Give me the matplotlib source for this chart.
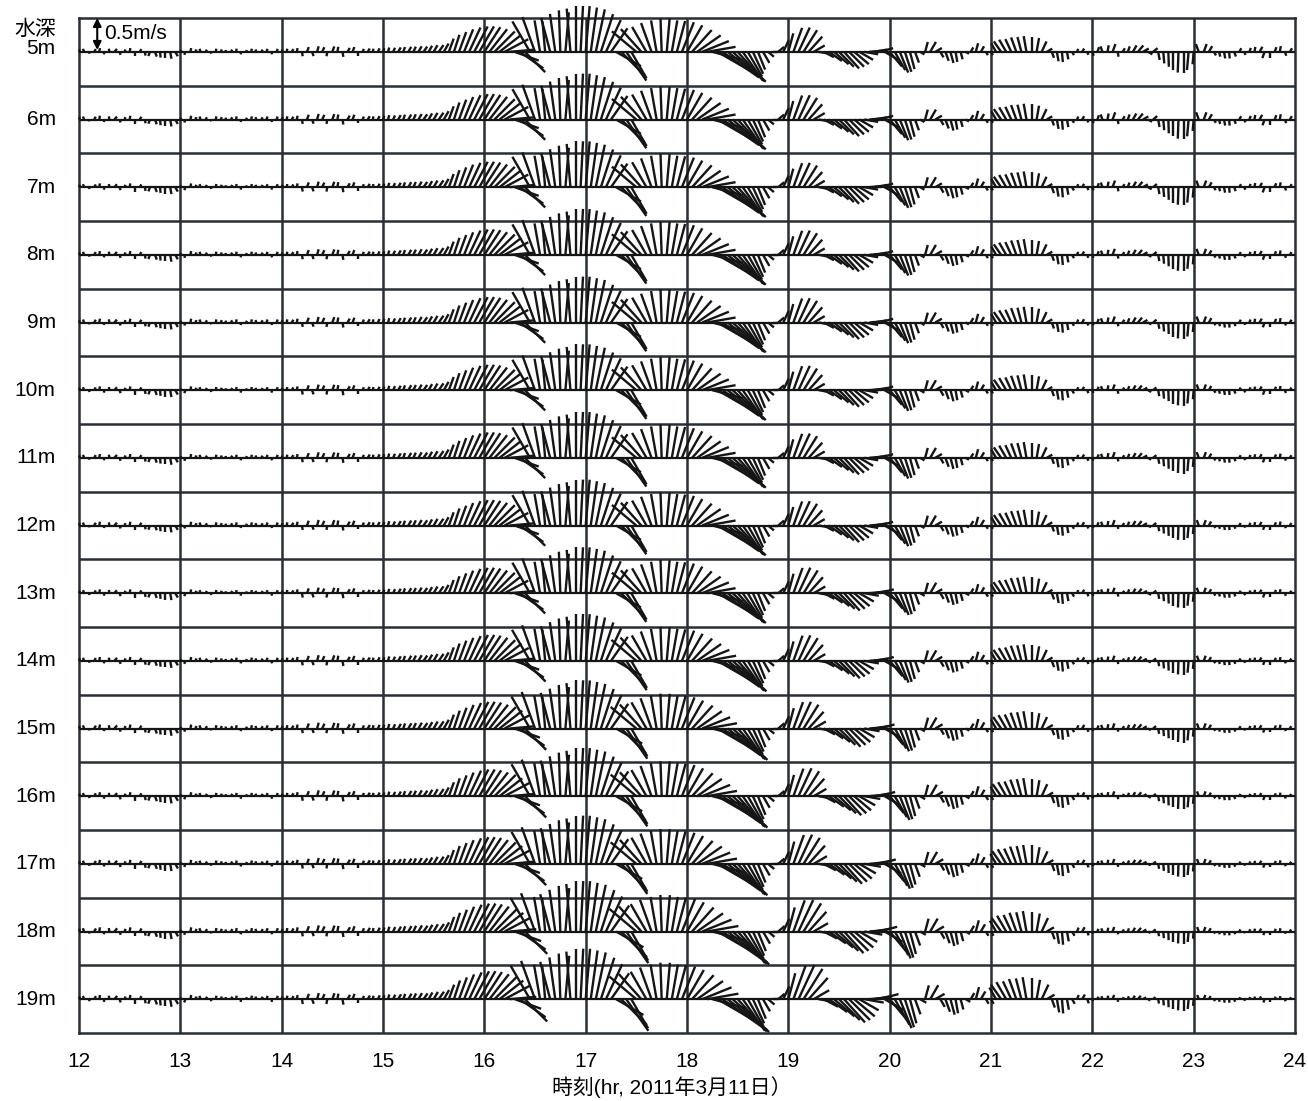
import numpy as np
import matplotlib
matplotlib.use('Agg')
import matplotlib.pyplot as plt
from matplotlib.collections import LineCollection

plt.rcParams['font.family'] = ['Liberation Sans', 'Noto Sans CJK JP']

depths = ['5m', '6m', '7m', '8m', '9m', '10m', '11m', '12m',
          '13m', '14m', '15m', '16m', '17m', '18m', '19m']

# current speed (m/s) and direction (deg, clockwise from north), every 3 min
speed_12 = [0.04, 0.05, 0.03, 0.05, 0.06, 0.04, 0.05, 0.06, 0.05, 0.04,
            0.06, 0.07, 0.05, 0.06, 0.07, 0.08, 0.09, 0.10, 0.11, 0.08]
dir_12 = [20, 340, 170, 30, 10, 190, 350, 40, 160, 20,
          10, 180, 30, 170, 200, 160, 175, 180, 170, 150]
speed_13 = [0.03, 0.05, 0.06, 0.04, 0.05, 0.04, 0.03, 0.05, 0.04, 0.03,
            0.04, 0.05, 0.04, 0.03, 0.05, 0.04, 0.04, 0.05, 0.04, 0.05]
dir_13 = [30, 200, 10, 20, 340, 30, 160, 10, 20, 350,
          30, 10, 190, 20, 10, 340, 30, 20, 170, 20]
speed_14 = [0.04, 0.05, 0.05, 0.06, 0.07, 0.08, 0.07, 0.09, 0.08, 0.07,
            0.09, 0.08, 0.08, 0.07, 0.08, 0.06, 0.05, 0.06, 0.05, 0.06]
dir_14 = [20, 10, 30, 10, 170, 20, 160, 15, 25, 190,
          20, 10, 170, 30, 20, 180, 20, 30, 10, 25]
speed_15 = [0.06, 0.07, 0.07, 0.08, 0.08, 0.09, 0.09, 0.10, 0.10, 0.11,
            0.12, 0.13, 0.15, 0.22, 0.28, 0.33, 0.38, 0.42, 0.45, 0.46]
dir_15 = [20, 15, 25, 30, 20, 30, 25, 30, 35, 30,
          30, 35, 30, 20, 18, 20, 22, 25, 28, 30]
speed_16 = [0.46, 0.45, 0.45, 0.43, 0.42, 0.38, 0.40, 0.45, 0.45, 0.55,
            0.58, 0.50, 0.48, 0.55, 0.60, 0.65, 0.62, 0.68, 0.72, 0.72]
dir_16 = [33, 38, 45, 52, 62, 85, 110, 125, 135, 330,
          340, 350, 355, 345, 352, 358, 5, 355, 0, 3]
speed_17 = [0.72, 0.70, 0.68, 0.62, 0.55, 0.45, 0.45, 0.52, 0.55, 0.48,
            0.50, 0.48, 0.45, 0.48, 0.50, 0.52, 0.52, 0.50, 0.50, 0.50]
dir_17 = [5, 8, 12, 18, 25, 35, 120, 135, 145, 150,
          310, 318, 330, 340, 350, 358, 5, 10, 15, 22]
speed_18 = [0.48, 0.46, 0.45, 0.45, 0.45, 0.50, 0.60, 0.70, 0.72, 0.70,
            0.62, 0.55, 0.45, 0.38, 0.30, 0.20, 0.12, 0.08, 0.12, 0.20]
dir_18 = [30, 42, 55, 68, 80, 105, 120, 125, 128, 132,
          138, 145, 150, 155, 158, 150, 130, 90, 50, 25]
speed_19 = [0.30, 0.40, 0.42, 0.40, 0.32, 0.20, 0.12, 0.18, 0.25, 0.30,
            0.33, 0.35, 0.33, 0.30, 0.25, 0.22, 0.20, 0.20, 0.22, 0.25]
dir_19 = [15, 20, 25, 32, 42, 60, 100, 118, 125, 130,
          135, 138, 135, 130, 120, 100, 85, 80, 75, 120]
speed_20 = [0.30, 0.33, 0.35, 0.33, 0.28, 0.18, 0.08, 0.16, 0.18, 0.12,
            0.10, 0.15, 0.18, 0.16, 0.12, 0.06, 0.08, 0.14, 0.10, 0.06]
dir_20 = [140, 150, 158, 162, 165, 160, 120, 15, 30, 60,
          150, 160, 165, 170, 165, 120, 30, 15, 30, 150]
speed_21 = [0.06, 0.15, 0.20, 0.22, 0.22, 0.24, 0.24, 0.25, 0.24, 0.22,
            0.18, 0.10, 0.10, 0.15, 0.16, 0.12, 0.06, 0.05, 0.06, 0.05]
dir_21 = [150, 330, 325, 330, 335, 340, 345, 350, 0, 10,
          25, 60, 160, 170, 175, 170, 150, 20, 30, 160]
speed_22 = [0.05, 0.06, 0.07, 0.08, 0.10, 0.06, 0.05, 0.07, 0.09, 0.10,
            0.08, 0.06, 0.07, 0.10, 0.14, 0.18, 0.22, 0.25, 0.26, 0.22]
dir_22 = [160, 20, 340, 10, 20, 170, 30, 20, 30, 40,
          60, 120, 50, 170, 175, 178, 180, 182, 180, 185]
speed_23 = [0.15, 0.10, 0.10, 0.08, 0.05, 0.06, 0.08, 0.08, 0.06, 0.05,
            0.04, 0.05, 0.06, 0.07, 0.08, 0.07, 0.06, 0.07, 0.05, 0.05]
dir_23 = [185, 340, 20, 30, 150, 165, 170, 175, 160, 30,
          160, 20, 10, 30, 200, 180, 20, 10, 160, 30]

# rough amplitude of each depth relative to the common pattern
gain_early = [1.0, 1.0, 1.0, 1.0, 1.0, 1.0, 1.0, 1.0, 1.0, 1.02, 1.05, 1.05, 1.05, 1.1, 1.1]
gain_mid = [1.0, 1.0, 1.0, 1.0, 1.0, 1.0, 1.0, 1.0, 1.05, 1.05, 1.1, 1.15, 1.2, 1.3, 1.4]
gain_late = [1.3, 1.2, 1.1, 1.0, 1.0, 0.95, 0.95, 0.9, 0.9, 0.85, 0.85, 0.8, 0.8, 0.75, 0.7]

speed = np.array(speed_12 + speed_13 + speed_14 + speed_15 + speed_16 + speed_17 +
                 speed_18 + speed_19 + speed_20 + speed_21 + speed_22 + speed_23)
direction = np.array(dir_12 + dir_13 + dir_14 + dir_15 + dir_16 + dir_17 +
                     dir_18 + dir_19 + dir_20 + dir_21 + dir_22 + dir_23)
times = 12 + np.arange(len(speed)) * 3 / 60.0

rad = np.deg2rad(direction)
u = speed * np.sin(rad)
v = speed * np.cos(rad)

fig = plt.figure(figsize=(13.08, 11.01), dpi=100)
ax = fig.add_axes([79 / 1308, 1 - 1033 / 1101, 1216 / 1308, 1015 / 1101])

n = len(depths)
H = 1.06  # row height in m/s
ax.set_xlim(12, 24)
ax.set_ylim(-n * H, 0)

# keep the stick angles true on screen
px_per_hr = 1216 / 12
px_per_ms = 1015 / (n * H)
hr_per_ms = px_per_ms / px_per_hr

line_col = '#2a2e33'
for h in range(13, 24):
    ax.axvline(h, color=line_col, lw=1.8, zorder=1)
for i in range(1, n):
    ax.axhline(-i * H, color=line_col, lw=1.8, zorder=1)
for s in ax.spines.values():
    s.set_linewidth(1.8)
    s.set_color(line_col)

for i, d in enumerate(depths):
    y0 = -(i + 0.5) * H
    g = np.where(times < 19, gain_early[i],
                 np.where(times < 22, gain_mid[i], gain_late[i]))
    segs = [[(t, y0), (t + uu * gg * hr_per_ms, y0 + vv * gg)]
            for t, uu, vv, gg in zip(times, u, v, g)]
    ax.add_collection(LineCollection(segs, colors='#151515', linewidths=1.7,
                                     clip_on=False, zorder=3))
    ax.plot([12, 24], [y0, y0], color='#151515', lw=1.6, zorder=3)
    ty = y0 + 0.06 if i == 0 else y0
    ax.text(11.77, ty, d, ha='right', va='center', fontsize=15, clip_on=False)

ax.text(11.77, -0.18, '水深', ha='right', va='center', fontsize=15, clip_on=False)

# scale arrow
ax.annotate('', xy=(12.18, -0.5), xytext=(12.18, 0.0),
            arrowprops=dict(arrowstyle='<|-|>', color='k', lw=1.5,
                            mutation_scale=12, shrinkA=0, shrinkB=0), zorder=4)
ax.text(12.245, -0.25, '0.5m/s', ha='left', va='center', fontsize=15)

ax.set_xticks(range(12, 25))
ax.set_yticks([])
ax.tick_params(length=0, labelsize=15, pad=14)

fig.text(672 / 1308, 1 - 1087 / 1101, '時刻(hr, 2011年3月11日）',
         ha='center', va='center', fontsize=15)

plt.savefig('out.png', dpi=100)
